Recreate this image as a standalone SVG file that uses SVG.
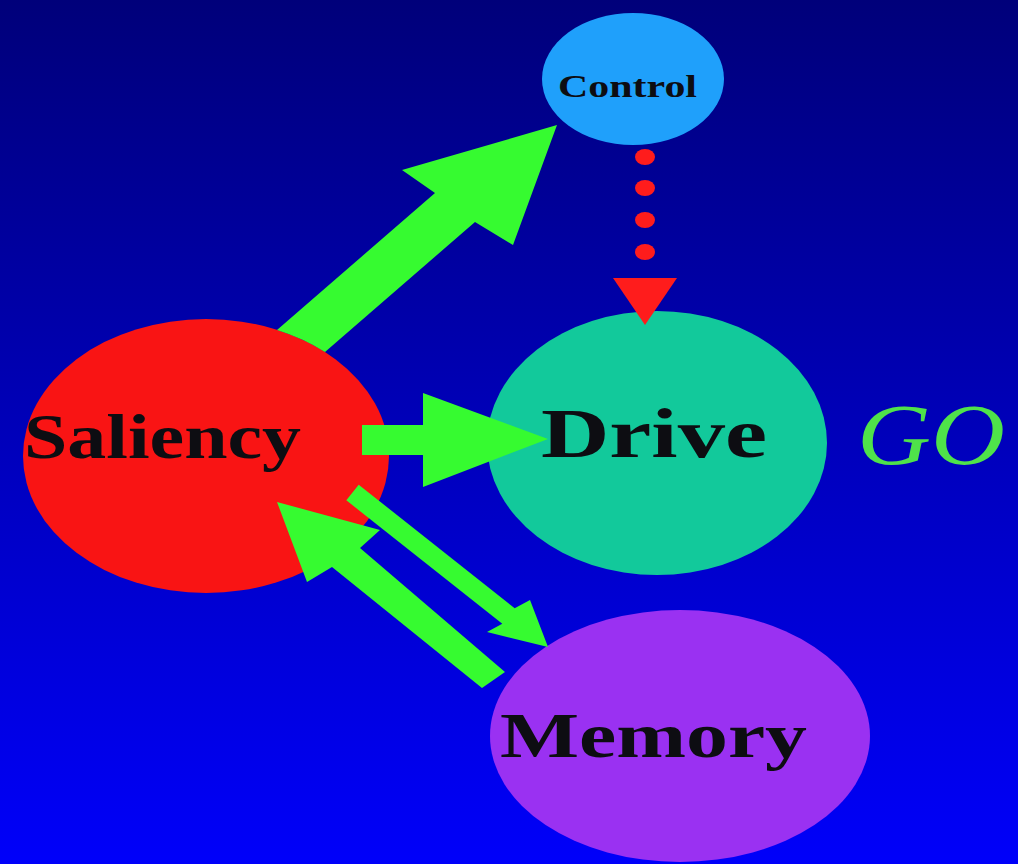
<svg xmlns="http://www.w3.org/2000/svg" width="1018" height="864" viewBox="0 0 1018 864">
  <defs>
    <linearGradient id="bg" x1="0" y1="0" x2="0" y2="1">
      <stop offset="0" stop-color="#00007a"/>
      <stop offset="1" stop-color="#0000fa"/>
    </linearGradient>
    <style>
      .label { font-family: "Liberation Serif", "Times New Roman", serif; font-weight: bold; fill: #0d0d12; }
      .flow { fill: #36fb30; }
      .dot { fill: #ff1c1c; }
    </style>
  </defs>

  <rect x="0" y="0" width="1018" height="864" fill="url(#bg)"/>

  <!-- nodes -->
  <g id="control">
    <ellipse cx="633" cy="79" rx="91" ry="66" fill="#1fa0fb"/>
    <text class="label" x="558" y="97" font-size="31" textLength="139" lengthAdjust="spacingAndGlyphs" fill="#0e1a3a">Control</text>
  </g>

  <g id="saliency">
    <ellipse cx="206" cy="456" rx="183" ry="137" fill="#f91414"/>
    <text class="label" x="24" y="458" font-size="63" textLength="277" lengthAdjust="spacingAndGlyphs">Saliency</text>
  </g>

  <g id="drive">
    <ellipse cx="657" cy="443" rx="170" ry="132" fill="#12c99b"/>
    <text class="label" x="541" y="457" font-size="70" textLength="226" lengthAdjust="spacingAndGlyphs">Drive</text>
  </g>

  <g id="memory">
    <ellipse cx="680" cy="736" rx="190" ry="126" fill="#9a31f2"/>
    <text class="label" x="500" y="757" font-size="63" textLength="307" lengthAdjust="spacingAndGlyphs">Memory</text>
  </g>

  <g id="go">
    <text x="857" y="464" font-family="'Liberation Serif', 'Times New Roman', serif" font-style="italic" font-size="86" textLength="148" lengthAdjust="spacingAndGlyphs" fill="#4fe24a">GO</text>
  </g>

  <!-- connectors -->
  <g id="connectors">
    <!-- Saliency to Control: block arrow starting at the ellipse rim -->
    <path class="flow" d="M 325 352 L 475 222 L 513 245 L 557 125 L 402 170 L 435 193 L 277 330 A 183 137 0 0 1 325 352 Z"/>

    <!-- Saliency to Drive -->
    <polygon class="flow" points="362,425 423,425 423,393 548,439 423,487 423,455 362,455"/>

    <!-- Saliency to Memory (thin) -->
    <polygon class="flow" points="358.7,484.7 514.7,608.2 530,600 548,647 487,632 502.3,623.8 346.3,500.3"/>

    <!-- Memory to Saliency (thick) -->
    <polygon class="flow" points="505,672 360,548 380,530 277,502 307,582 332,567 482,688"/>

    <!-- Control to Drive: dotted red line -->
    <g id="control-drive">
      <ellipse class="dot" cx="645" cy="157" rx="10" ry="8"/>
      <ellipse class="dot" cx="645" cy="188" rx="10" ry="8"/>
      <ellipse class="dot" cx="645" cy="220" rx="10" ry="8"/>
      <ellipse class="dot" cx="645" cy="252" rx="10" ry="8"/>
      <polygon class="dot" points="613,278 677,278 645,325"/>
    </g>
  </g>
</svg>
